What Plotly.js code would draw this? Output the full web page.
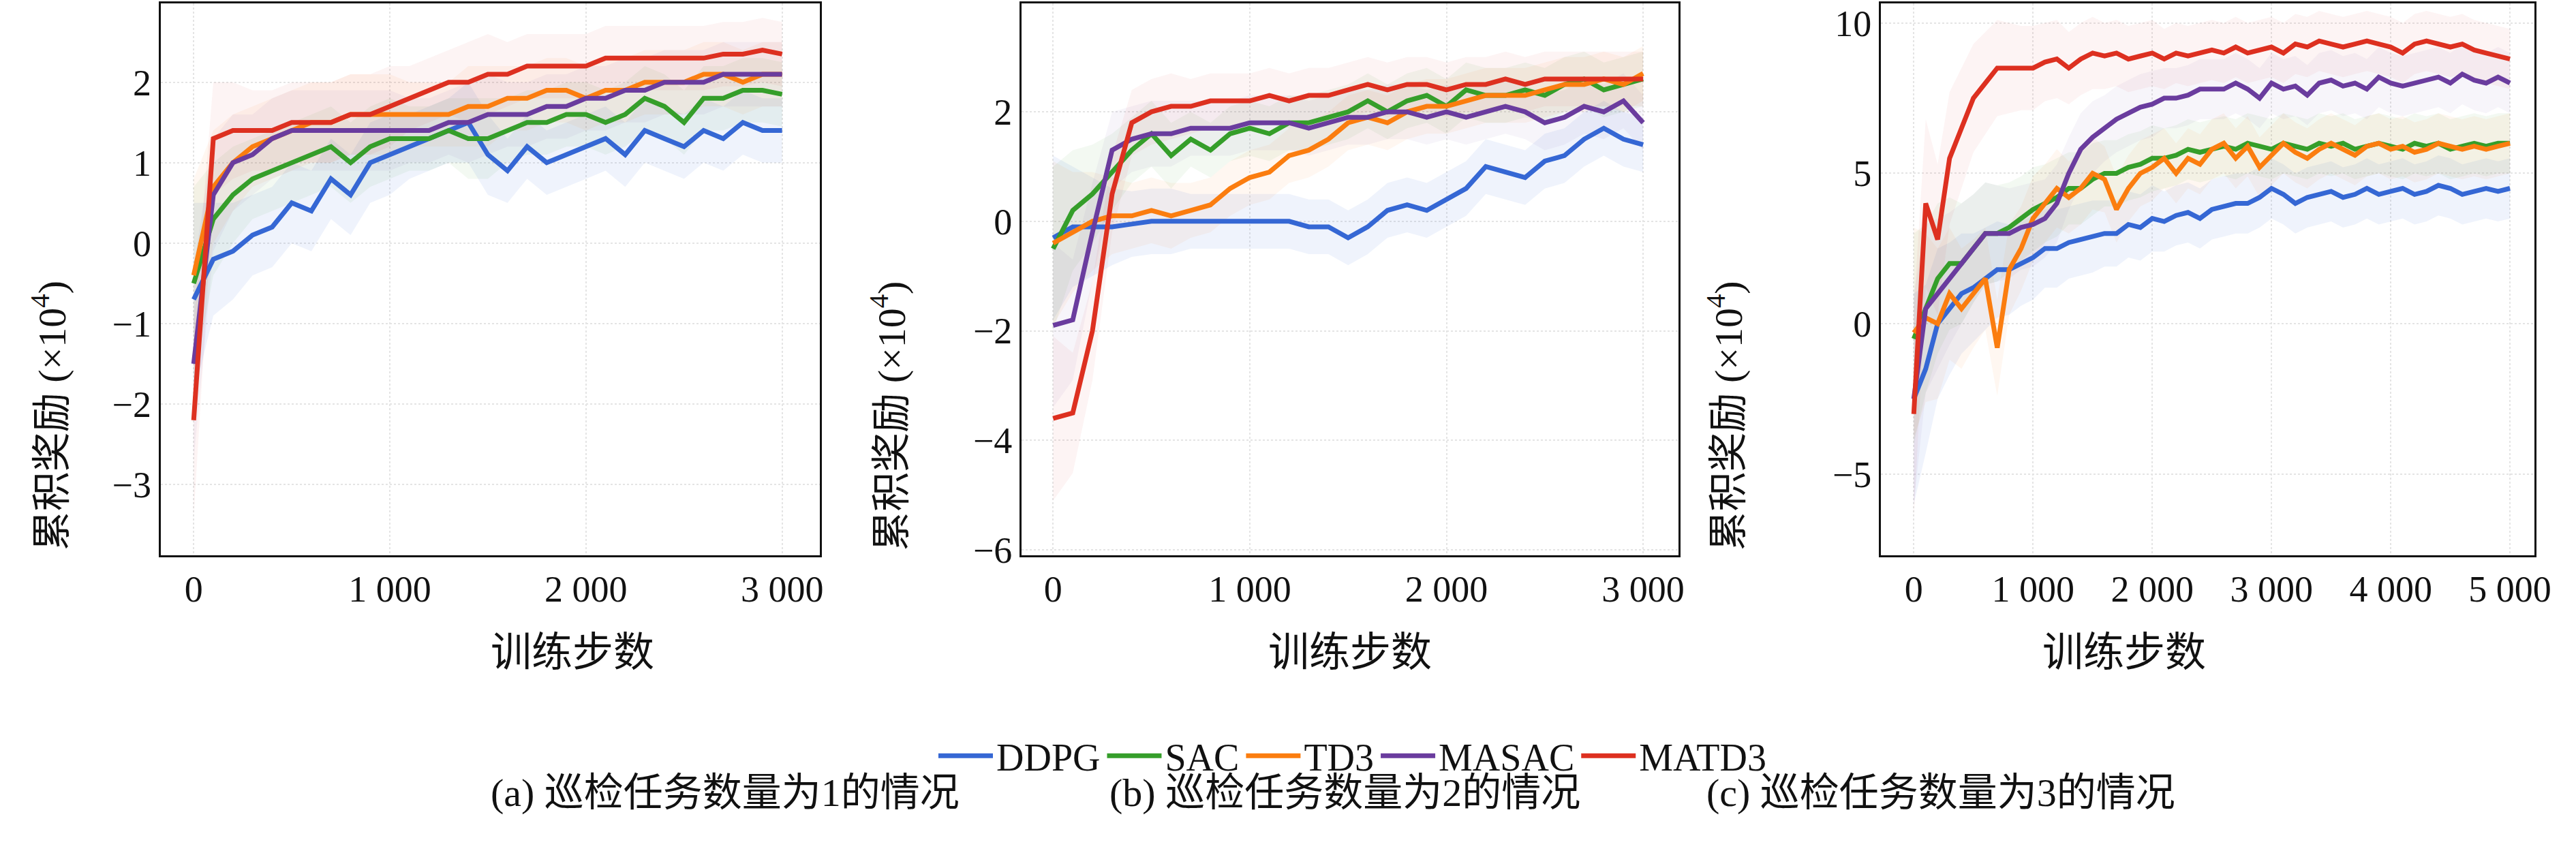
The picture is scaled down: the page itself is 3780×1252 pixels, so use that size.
<!DOCTYPE html>
<html>
<head>
<meta charset="utf-8">
<script src="https://cdn.plot.ly/plotly-3.0.1.min.js"></script>
<style>body{margin:0;background:#fff}#chart{width:3780px;height:1252px}</style>
</head>
<body>
<div id="chart"></div>
<script>
// training steps
const stepsShort = Array.from({length: 31}, (_, i) => i * 100);
const stepsLong = Array.from({length: 51}, (_, i) => i * 100);

const algos = ['DDPG', 'SAC', 'TD3', 'MASAC', 'MATD3'];
const colors = ['#3567d4', '#359e2a', '#fb7d0f', '#6a3c9e', '#dd3020'];
const fills = ['rgba(53,103,212,0.08)', 'rgba(53,158,42,0.06)', 'rgba(251,125,15,0.06)', 'rgba(106,60,158,0.05)', 'rgba(221,48,32,0.05)'];

// panel (a): 1 task, reward x1e4
const ddpgA = [-0.7,-0.2,-0.1,0.1,0.2,0.5,0.4,0.8,0.6,1.0,1.1,1.2,1.3,1.4,1.5,1.1,0.9,1.2,1.0,1.1,1.2,1.3,1.1,1.4,1.3,1.2,1.4,1.3,1.5,1.4,1.4];
const sacA = [-0.5,0.3,0.6,0.8,0.9,1.0,1.1,1.2,1.0,1.2,1.3,1.3,1.3,1.4,1.3,1.3,1.4,1.5,1.5,1.6,1.6,1.5,1.6,1.8,1.7,1.5,1.8,1.8,1.9,1.9,1.85];
const td3A = [-0.4,0.7,1.0,1.2,1.3,1.4,1.5,1.5,1.6,1.6,1.6,1.6,1.6,1.6,1.7,1.7,1.8,1.8,1.9,1.9,1.8,1.9,1.9,2.0,2.0,2.0,2.1,2.1,2.0,2.1,2.1];
const masacA = [-1.5,0.6,1.0,1.1,1.3,1.4,1.4,1.4,1.4,1.4,1.4,1.4,1.4,1.5,1.5,1.6,1.6,1.6,1.7,1.7,1.8,1.8,1.9,1.9,2.0,2.0,2.0,2.1,2.1,2.1,2.1];
const matd3A = [-2.2,1.3,1.4,1.4,1.4,1.5,1.5,1.5,1.6,1.6,1.7,1.8,1.9,2.0,2.0,2.1,2.1,2.2,2.2,2.2,2.2,2.3,2.3,2.3,2.3,2.3,2.3,2.35,2.35,2.4,2.35];
const spreadA = [1.2,0.7,0.6,0.5,0.5,0.5,0.5,0.5,0.5,0.5,0.5,0.4,0.4,0.4,0.5,0.5,0.4,0.4,0.4,0.4,0.4,0.4,0.4,0.4,0.4,0.4,0.4,0.4,0.4,0.4,0.4];

// panel (b): 2 tasks
const ddpgB = [-0.3,-0.1,-0.1,-0.1,-0.05,0,0,0,0,0,0,0,0,-0.1,-0.1,-0.3,-0.1,0.2,0.3,0.2,0.4,0.6,1.0,0.9,0.8,1.1,1.2,1.5,1.7,1.5,1.4];
const sacB = [-0.5,0.2,0.5,0.9,1.3,1.6,1.2,1.5,1.3,1.6,1.7,1.6,1.8,1.8,1.9,2.0,2.2,2.0,2.2,2.3,2.1,2.4,2.3,2.3,2.4,2.3,2.5,2.6,2.4,2.5,2.6];
const td3B = [-0.4,-0.2,0,0.1,0.1,0.2,0.1,0.2,0.3,0.6,0.8,0.9,1.2,1.3,1.5,1.8,1.9,1.8,2.0,2.1,2.1,2.2,2.3,2.3,2.3,2.4,2.5,2.5,2.6,2.5,2.7];
const masacB = [-1.9,-1.8,-0.2,1.3,1.5,1.6,1.6,1.7,1.7,1.7,1.8,1.8,1.8,1.7,1.8,1.9,1.9,2.0,2.0,1.9,2.0,1.9,2.0,2.1,2.0,1.8,1.9,2.1,2.0,2.2,1.8];
const matd3B = [-3.6,-3.5,-2.0,0.5,1.8,2.0,2.1,2.1,2.2,2.2,2.2,2.3,2.2,2.3,2.3,2.4,2.5,2.4,2.5,2.5,2.4,2.5,2.5,2.6,2.5,2.6,2.6,2.6,2.6,2.6,2.6];
const spreadB = [1.5,1.1,0.9,0.7,0.6,0.6,0.6,0.5,0.5,0.5,0.5,0.5,0.5,0.5,0.5,0.5,0.5,0.5,0.5,0.5,0.5,0.5,0.5,0.5,0.5,0.5,0.5,0.5,0.5,0.5,0.5];

// panel (c): 3 tasks
const ddpgC = [-2.5,-1.5,0,0.5,1,1.2,1.5,1.8,1.8,2.0,2.2,2.5,2.5,2.7,2.8,2.9,3.0,3.0,3.3,3.2,3.5,3.4,3.6,3.7,3.5,3.8,3.9,4.0,4.0,4.2,4.5,4.3,4.0,4.2,4.3,4.4,4.2,4.3,4.5,4.3,4.4,4.5,4.3,4.4,4.6,4.5,4.3,4.4,4.5,4.4,4.5];
const sacC = [-0.5,0.5,1.5,2,2,2.5,3,3,3.2,3.5,3.8,4,4.2,4.5,4.5,4.8,5,5,5.2,5.3,5.5,5.5,5.6,5.8,5.7,5.8,5.9,5.8,6.0,5.9,5.8,6.0,5.9,5.8,6.0,5.9,6.0,5.8,5.9,6.0,5.9,5.8,6.0,5.9,6.0,5.8,5.9,6.0,5.9,6.0,6.0];
const td3C = [-0.3,0.2,0,1,0.5,1.0,1.5,-0.8,1.8,2.5,3.5,4.0,4.5,4.2,4.5,5.0,4.8,3.8,4.5,5.0,5.2,5.5,5.0,5.5,5.3,5.8,6.0,5.5,5.9,5.2,5.6,6.0,5.7,5.5,5.8,6.0,5.8,5.6,5.9,6.0,5.8,5.9,5.7,5.8,6.0,5.9,5.8,5.9,5.8,5.9,6.0];
const masacC = [-2.5,0.5,1.0,1.5,2.0,2.5,3.0,3.0,3.0,3.2,3.3,3.5,4.0,5.0,5.8,6.2,6.5,6.8,7.0,7.2,7.3,7.5,7.5,7.6,7.8,7.8,7.8,8.0,7.8,7.5,8.0,7.8,7.9,7.6,8.0,8.1,7.9,8.0,7.8,8.2,8.0,7.9,8.0,8.1,8.2,8.0,8.3,8.1,8.0,8.2,8.0];
const matd3C = [-3,4,2.8,5.5,6.5,7.5,8.0,8.5,8.5,8.5,8.5,8.7,8.8,8.5,8.8,9.0,8.9,9.0,8.8,8.9,9.0,8.8,9.0,8.9,9.0,9.1,9.0,9.2,9.0,9.1,9.2,9.0,9.3,9.2,9.4,9.3,9.2,9.3,9.4,9.3,9.2,9.0,9.3,9.4,9.3,9.2,9.3,9.1,9.0,8.9,8.8];
const spreadC = [3.5,2.8,2.5,2.2,2.0,1.8,1.7,1.6,1.5,1.4,1.4,1.3,1.3,1.2,1.2,1.2,1.1,1.1,1.1,1.1,1.1,1.0,1.0,1.0,1.0,1.0,1.0,1.0,1.0,1.0,1.0,1.0,1.0,1.0,1.0,1.0,1.0,1.0,1.0,1.0,1.0,1.0,1.0,1.0,1.0,1.0,1.0,1.0,1.0,1.0,1.0];

const panels = [
  {xa: 'x', ya: 'y', steps: stepsShort, series: [ddpgA, sacA, td3A, masacA, matd3A], spread: spreadA},
  {xa: 'x2', ya: 'y2', steps: stepsShort, series: [ddpgB, sacB, td3B, masacB, matd3B], spread: spreadB},
  {xa: 'x3', ya: 'y3', steps: stepsLong, series: [ddpgC, sacC, td3C, masacC, matd3C], spread: spreadC}
];

const traces = [];
panels.forEach((p, pi) => {
  p.series.forEach((s, k) => {
    const n = Math.min(s.length, p.steps.length);
    const xs = p.steps.slice(0, n);
    const up = s.slice(0, n).map((v, i) => v + p.spread[i]);
    const lo = s.slice(0, n).map((v, i) => v - p.spread[i]);
    traces.push({x: xs.concat(xs.slice().reverse()), y: up.concat(lo.reverse()), xaxis: p.xa, yaxis: p.ya,
      fill: 'toself', fillcolor: fills[k], line: {width: 0}, mode: 'lines', hoverinfo: 'skip', showlegend: false});
  });
  p.series.forEach((s, k) => {
    traces.push({x: p.steps, y: s, xaxis: p.xa, yaxis: p.ya, mode: 'lines', name: algos[k],
      line: {color: colors[k], width: 7}, showlegend: pi === 0});
  });
});

const font = {family: 'Liberation Serif, Noto Sans CJK SC, serif', color: '#111', size: 54};
const ax = (dom, range, tickvals, ticktext) => ({
  domain: dom, range: range, tickvals: tickvals, ticktext: ticktext, showline: true, mirror: true,
  linecolor: '#111', linewidth: 3, ticks: '', showgrid: true, gridcolor: '#e4e4e4', griddash: 'dot',
  gridwidth: 2, zeroline: false, tickfont: {size: 54}
});
const yDom = [0.349, 0.996];
const layout = {
  width: 3780, height: 1252, margin: {l: 0, r: 0, t: 0, b: 0}, font: font,
  paper_bgcolor: '#fff', plot_bgcolor: '#fff',
  xaxis: ax([0.0624, 0.3183], [-168, 3193], [0, 1000, 2000, 3000], ['0', '1 000', '2 000', '3 000']),
  yaxis: ax(yDom, [-3.88, 2.98], [-3, -2, -1, 0, 1, 2], ['−3', '−2', '−1', '0', '1', '2']),
  xaxis2: Object.assign(ax([0.3966, 0.6516], [-160, 3180], [0, 1000, 2000, 3000], ['0', '1 000', '2 000', '3 000']), {anchor: 'y2'}),
  yaxis2: Object.assign(ax(yDom, [-6.1, 3.98], [-6, -4, -2, 0, 2], ['−6', '−4', '−2', '0', '2']), {anchor: 'x2'}),
  xaxis3: Object.assign(ax([0.7302, 0.9839], [-275, 5206], [0, 1000, 2000, 3000, 4000, 5000], ['0', '1 000', '2 000', '3 000', '4 000', '5 000']), {anchor: 'y3'}),
  yaxis3: Object.assign(ax(yDom, [-7.7, 10.65], [-5, 0, 5, 10], ['−5', '0', '5', '10']), {anchor: 'x3'}),
  showlegend: true,
  legend: {orientation: 'h', x: 0.525, xanchor: 'center', y: 0.114, yanchor: 'middle', font: {size: 56},
    itemwidth: 80, bgcolor: 'rgba(0,0,0,0)'},
  annotations: []
};
const xt = [0.19, 0.524, 0.857];
const yt = [0.009, 0.345, 0.68];
const caps = ['(a) 巡检任务数量为1的情况', '(b) 巡检任务数量为2的情况', '(c) 巡检任务数量为3的情况'];
for (let i = 0; i < 3; i++) {
  layout.annotations.push({text: '训练步数', xref: 'paper', yref: 'paper', x: xt[i], y: 0.207, showarrow: false, font: {size: 60}});
  layout.annotations.push({text: '累积奖励 (×10<sup>4</sup>)', xref: 'paper', yref: 'paper', x: yt[i], y: 0.672, textangle: -90, showarrow: false, font: {size: 58}});
  layout.annotations.push({text: caps[i], xref: 'paper', yref: 'paper', x: [0.19, 0.522, 0.845][i], y: 0.043, showarrow: false, font: {size: 58}});
}
Plotly.newPlot('chart', traces, layout, {staticPlot: true});
</script>
</body>
</html>
